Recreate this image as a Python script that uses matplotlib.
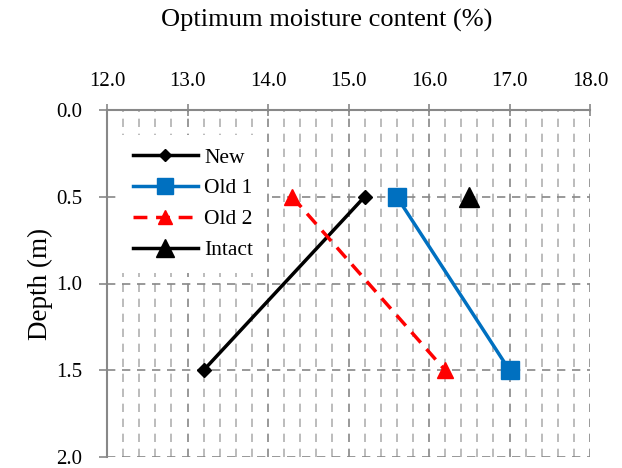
import numpy as np
import matplotlib.pyplot as plt
from matplotlib.ticker import MultipleLocator

plt.rcParams['font.family'] = ['Liberation Serif', 'DejaVu Serif']

# Optimum moisture content (%) against depth (m)
depth = [0.5, 1.5]
omc_new = [15.2, 13.2]
omc_old1 = [15.6, 17.0]
omc_old2 = [14.3, 16.2]
depth_intact = [0.5]
omc_intact = [16.5]

fig = plt.figure(figsize=(6.22, 4.68), dpi=100)
ax = fig.add_axes([107 / 622, 11 / 468, 483 / 622, 347 / 468])

ax.plot(omc_new, depth, color='black', lw=2.5, marker='D', ms=7, label='New', zorder=4)
ax.plot(omc_old1, depth, color='#0070C0', lw=2.5, marker='s', ms=13, label='Old 1', zorder=4)
ax.plot(omc_old2, depth, color='red', lw=2.5, ls=(0, (4, 2.5)), marker='^', ms=11,
        label='Old 2', zorder=4)
ax.plot(omc_intact, depth_intact, color='black', lw=2.5, marker='^', ms=14,
        label='Intact', zorder=4)

ax.set_xlim(12, 18)
ax.set_ylim(2.0, 0.0)
ax.xaxis.set_major_locator(MultipleLocator(1.0))
ax.xaxis.set_minor_locator(MultipleLocator(0.2))
ax.yaxis.set_major_locator(MultipleLocator(0.5))
ax.xaxis.set_major_formatter(lambda v, p: f'{v:.1f}')
ax.yaxis.set_major_formatter(lambda v, p: f'{v:.1f}')

ax.xaxis.tick_top()
fig.text(327 / 622, 1 - 20 / 468, 'Optimum moisture content (%)', fontsize=19,
         ha='center', va='center')
ax.set_ylabel('Depth (m)', fontsize=19.5, labelpad=2)
ax.tick_params(axis='both', which='major', labelsize=15, color='#888888', width=1.2)
ax.tick_params(axis='x', which='major', direction='inout', length=8, pad=10)
ax.tick_params(axis='x', which='minor', length=0)
ax.tick_params(axis='y', direction='out', length=6, pad=12)

for side in ['right', 'bottom']:
    ax.spines[side].set_visible(False)
for side in ['left', 'top']:
    ax.spines[side].set_color('#888888')
    ax.spines[side].set_linewidth(1.5)

ax.grid(True, which='major', axis='both', color='#888888', ls=(0, (5, 4)), lw=1.2)
ax.grid(True, which='minor', axis='x', color='#b0b0b0', ls=(0, (5, 4)), lw=1.2)
ax.set_axisbelow(True)

leg = ax.legend(loc='upper left', bbox_to_anchor=(0.005, 0.96), frameon=True,
                fontsize=15.5, handlelength=3.0, labelspacing=0.5,
                borderpad=0.6, handletextpad=0.3, markerscale=0.9)
leg.get_frame().set_edgecolor('none')
leg.get_frame().set_facecolor('white')
leg.get_frame().set_alpha(1.0)
leg.get_frame().set_boxstyle('square', pad=0.0)

fig.savefig('out.png', dpi=100)
